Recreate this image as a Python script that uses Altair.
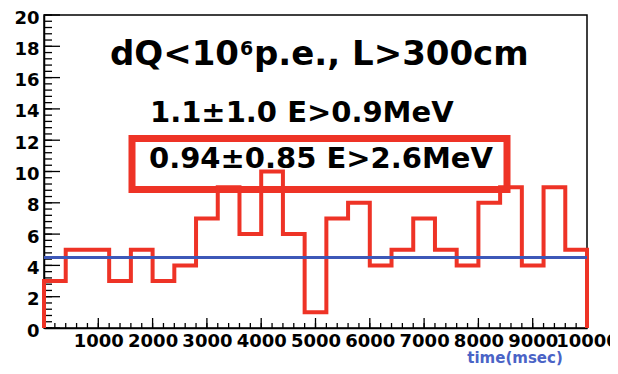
import altair as alt
import pandas as pd

# ---- data ----
bin_width = 400
bin_left = list(range(0, 10000, bin_width))
counts = [3, 5, 5, 3, 5, 3, 4, 7, 9, 6, 10, 6, 1, 7, 8, 4, 5, 7, 5, 4, 8, 9, 4, 9, 5]
fit_level = 4.5
x_range = [0, 10000]
y_range = [0, 20]

x_major = [1000, 2000, 3000, 4000, 5000, 6000, 7000, 8000, 9000, 10000]
y_major = [0, 2, 4, 6, 8, 10, 12, 14, 16, 18, 20]
x_minor = list(range(0, 10001, 200))
y_minor = [i * 0.4 for i in range(0, 51)]

title_a = "dQ<10"
title_sup = "6"
title_b = "p.e., L>300cm"
line1_text = "1.1±1.0 E>0.9MeV"
line2_text = "0.94±0.85 E>2.6MeV"
xtitle_text = "time(msec)"

RED = "#ee3326"
BLUE = "#3d58b8"
FONT = "DejaVu Sans"
W, H = 543, 313

# step outline table
xs = [x_range[0]] + bin_left + [x_range[1], x_range[1]]
ys = [0] + counts + [counts[-1], 0]
hist = pd.DataFrame({"t": xs, "n": ys, "i": list(range(len(xs)))})

xscale = alt.Scale(domain=x_range, nice=False, zero=False)
yscale = alt.Scale(domain=y_range, nice=False)

x_axis = alt.Axis(values=x_major, format="d", labelFontSize=18, labelPadding=4,
                  labelOverlap=False, labelBound=False, labelFlush=False, title=None)
y_axis = alt.Axis(values=y_major, format="d", labelFontSize=18, labelPadding=5,
                  labelOverlap=False, labelBound=False, labelFlush=False, title=None,
                  labelOffset=3)

def X(f):
    return alt.X(f, scale=xscale, axis=x_axis)

def Y(f):
    return alt.Y(f, scale=yscale, axis=y_axis)

hist_line = alt.Chart(hist).mark_line(color=RED, strokeWidth=4, interpolate="step-after").encode(
    x=X("t:Q"), y=Y("n:Q"), order="i:Q",
)

fit = alt.Chart(pd.DataFrame({"a": [x_range[0]], "b": [x_range[1]], "v": [fit_level]})).mark_rule(
    color=BLUE, strokeWidth=3
).encode(x=X("a:Q"), x2="b:Q", y=Y("v:Q"))

xmaj = alt.Chart(pd.DataFrame({"t": [0] + x_major})).mark_rule(color="black", strokeWidth=1.3).encode(
    x=X("t:Q"), y=alt.value(H), y2=alt.value(H - 10))
xmin = alt.Chart(pd.DataFrame({"t": x_minor})).mark_rule(color="black", strokeWidth=1.3).encode(
    x=X("t:Q"), y=alt.value(H), y2=alt.value(H - 5))
ymaj = alt.Chart(pd.DataFrame({"v": y_major})).mark_rule(color="black", strokeWidth=1.3).encode(
    y=Y("v:Q"), x=alt.value(0), x2=alt.value(16))
ymin = alt.Chart(pd.DataFrame({"v": y_minor})).mark_rule(color="black", strokeWidth=1.3).encode(
    y=Y("v:Q"), x=alt.value(0), x2=alt.value(8))

box = alt.Chart(pd.DataFrame({"k": [0]})).mark_rect(fill=None, stroke=RED, strokeWidth=7).encode(
    x=alt.value(88), x2=alt.value(463), y=alt.value(123.5), y2=alt.value(174.5))

def txt(s, x, y, size, align="left", color="black"):
    return alt.Chart(pd.DataFrame({"s": [s]})).mark_text(
        font=FONT, fontWeight="bold", fontSize=size, align=align, baseline="alphabetic", color=color
    ).encode(text="s:N", x=alt.value(x), y=alt.value(y))

ta = txt(title_a, 195, 50, 34, align="right")
ts = txt(title_sup, 196, 40, 19)
tb = txt(title_b, 210, 50, 34)
t1 = txt(line1_text, 106, 107, 29)
t2 = txt(line2_text, 105, 153, 29)
t3 = txt(xtitle_text, 471, 348, 15, align="center", color="#4a63c6")

chart = alt.layer(xmin, xmaj, ymin, ymaj, box, hist_line, fit, ta, ts, tb, t1, t2, t3).properties(
    width=W, height=H,
    autosize=alt.AutoSizeParams(type="none"),
    padding={"left": 36, "top": 7, "right": 23, "bottom": 38},
).configure_view(stroke="black", strokeWidth=1.5).configure_axis(
    labelFont=FONT, labelFontWeight="bold", labelColor="black", ticks=False,
    domainColor="black", domainWidth=1.5, grid=False, labelOverlap=False,
)

chart.save("out.html", embed_options={"renderer": "svg", "actions": False})
